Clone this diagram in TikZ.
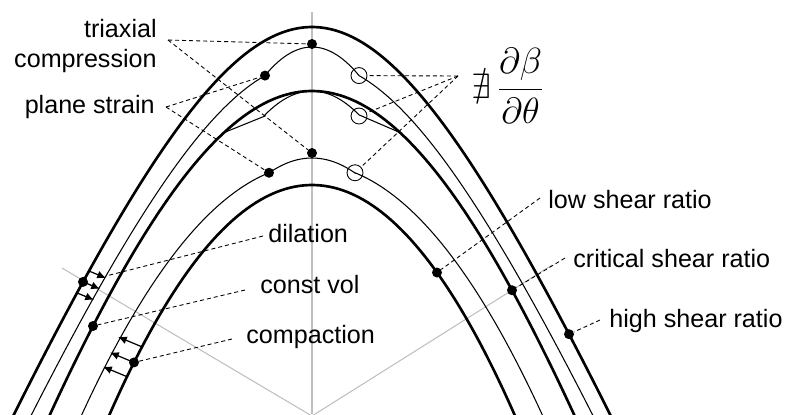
\documentclass[tikz,border=0pt]{standalone}
\usepackage{amsmath,amssymb}
\usepackage{fontspec}
\setmainfont{Liberation Sans}
\usetikzlibrary{arrows.meta,positioning}

\tikzset{
  thk/.style={line width=1.5pt},
  thn/.style={line width=0.6pt},
  axis/.style={black!25,line width=0.6pt},
  lead/.style={line width=0.5pt,dash pattern=on 2.3pt off 1.7pt},
  arr/.style={line width=0.7pt,-{Latex[length=5pt,width=4.5pt]}},
  dot/.style={circle,fill,inner sep=0,minimum size=0.2cm},
  ring/.style={circle,draw,line width=0.5pt,inner sep=0,minimum size=0.32cm},
  lbl/.style={font=\fontsize{14.3}{17}\selectfont,inner sep=0}
}

\begin{document}
\begin{tikzpicture}[x=0.02cm,y=-0.02cm,
  declare function={cA(\u)=27+237*(sqrt(3.61+\u*\u)-1.9);
                    cC(\u)=91+329*(sqrt(9+\u*\u)-3);}]
\useasboundingbox (0,0) rectangle (785,414);

\begin{scope}
\clip (0,0) rectangle (785,414);
% reference lines
\draw[axis] (312,12) -- (312,414);
\draw[axis] (62,268) -- (312,416) -- (552,265);
% surfaces
\draw[thk] plot[domain=-3.2:3.2,samples=120] ({312+100*\x},{cA(\x)});
\draw[thn] plot[domain=-3.2:-0.47,samples=60] ({312+100*\x},{cA(\x)+35})
  -- plot[domain=-0.47:0.47,samples=30] ({312+100*\x},{47+129*\x*\x})
  -- plot[domain=0.47:3.2,samples=60] ({312+100*\x},{cA(\x)+35});
\draw[thk] plot[domain=-3:3,samples=120] ({312+100*\x},{cC(\x)});
\draw[thn] ({312-88},{cC(-0.88)}) -- (265,116)
  -- plot[domain=-0.47:0.47,samples=30] ({312+100*\x},{91+108*\x*\x})
  -- ({312+88},{cC(0.88)});
\draw[thn] plot[domain=-2.6:-0.43,samples=60] ({312+100*\x},{164+47.3*\x*\x})
  -- plot[domain=-0.43:0.43,samples=30] ({312+100*\x},{158+81*\x*\x})
  -- plot[domain=0.43:2.6,samples=60] ({312+100*\x},{164+47.3*\x*\x});
\draw[thk] plot[domain=-2.4:2.4,samples=100] ({312+100*\x},{185+56*\x*\x});
\end{scope}

% flow arrows
\foreach \u in {-2.23,-2.29,-2.35}
  \draw[arr] ({312+100*\u},{cA(\u)}) -- ++(17,7);
\foreach \u in {-1.70,-1.78,-1.85}
  \draw[arr] ({312+100*\u},{185+56*\u*\u}) -- ++(-24,-10);

% points
\node[dot] (tc1) at (312,44) {};
\node[dot] (tc2) at (312,153) {};
\node[dot] (ps1) at (265,{cA(-0.47)+35}) {};
\node[dot] (ps2) at (269,{164+47.3*0.43*0.43}) {};
\node[ring] (nd1) at (359,{cA(0.47)+35}) {};
\node[ring] (nd2) at (359,116) {};
\node[ring] (nd3) at (355,{164+47.3*0.43*0.43}) {};
\node[dot] (dld) at (83,{cA(-2.29)}) {};
\node[dot] (cvd) at (93,{cC(-2.19)}) {};
\node[dot] (cpd) at (134,{185+56*1.78*1.78}) {};
\node[dot] (lsd) at (437,{185+56*1.25*1.25}) {};
\node[dot] (csd) at (512,{cC(2.0)}) {};
\node[dot] (hsd) at (569,{cA(2.57)}) {};
\coordinate (dtip) at (106,276);

% labels
\node[lbl,align=right,anchor=east] (tc) at (157,46) {triaxial\\compression};
\node[lbl,anchor=base east] (ps) at (155,113) {plane strain};
\node[lbl,anchor=west] (nex) at (471,86)
  {\fontsize{20}{24}\selectfont$\nexists\,\dfrac{\partial\beta}{\partial\theta}$};
\node[lbl,anchor=base west] (dl) at (268,242) {dilation};
\node[lbl,anchor=base west] (cv) at (260,293) {const vol};
\node[lbl,anchor=base west] (cp) at (246,343) {compaction};
\node[lbl,anchor=base west] (ls) at (548,208) {low shear ratio};
\node[lbl,anchor=base west] (cs) at (573,267) {critical shear ratio};
\node[lbl,anchor=base west] (hs) at (609,327) {high shear ratio};

% leaders
\coordinate (tcx) at (168,40);
\coordinate (psx) at (166,107);
\coordinate (ndx) at (458,76);
\draw[lead] (tcx) -- (tc1);
\draw[lead] (tcx) -- (tc2);
\draw[lead] (psx) -- (ps1);
\draw[lead] (psx) -- (ps2);
\draw[lead] (ndx) -- (nd1);
\draw[lead] (ndx) -- (nd2);
\draw[lead] (ndx) -- (nd3);
\draw[lead] (263,236) -- (dtip);
\draw[lead] (245,290) -- (cvd);
\draw[lead] (232,339) -- (cpd);
\draw[lead] (540,198) -- (lsd);
\draw[lead] (565,258) -- (csd);
\draw[lead] (600,320) -- (hsd);
\end{tikzpicture}
\end{document}
